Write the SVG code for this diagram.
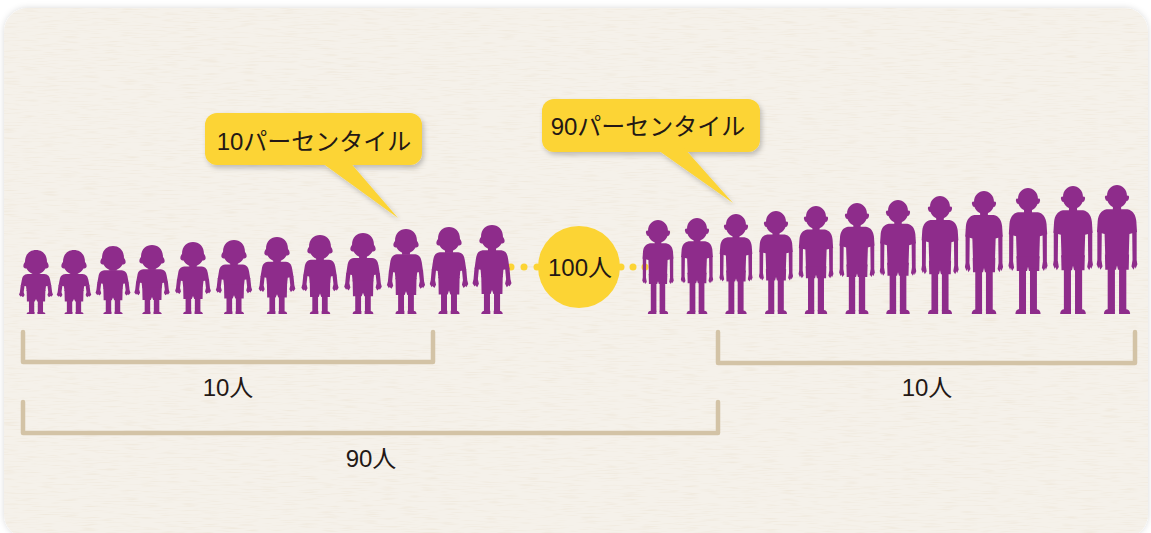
<svg xmlns="http://www.w3.org/2000/svg" xmlns:xlink="http://www.w3.org/1999/xlink" width="1151" height="533" viewBox="0 0 1151 533">
  <style>
    .fig { fill: #8E2C8B; }
    .bubble { fill: #FCD434; }
    .brace { fill: none; stroke: #D3C3A6; stroke-width: 4.5; stroke-linecap: round; stroke-linejoin: round; }
    .lbl { font-family: "Liberation Sans", "Noto Sans CJK JP", sans-serif; font-size: 24px; fill: #231815; text-anchor: middle; }
  </style>
  <defs>
    <filter id="panelShadow" x="-5%" y="-5%" width="110%" height="110%">
      <feDropShadow dx="0" dy="0" stdDeviation="3" flood-color="#000" flood-opacity="0.15"/>
    </filter>
    <filter id="linen" x="0" y="0" width="100%" height="100%">
      <feTurbulence type="fractalNoise" baseFrequency="0.05 0.75" numOctaves="2" seed="7" result="n"/>
      <feColorMatrix in="n" type="matrix" values="0 0 0 0 0.86  0 0 0 0 0.80  0 0 0 0 0.70  0 0 0 2.0 -1.0" result="c"/>
      <feComposite in="c" in2="SourceGraphic" operator="in"/>
    </filter>
    <filter id="bubbleShadow" x="-10%" y="-10%" width="125%" height="130%">
      <feDropShadow dx="2" dy="3" stdDeviation="2.5" flood-color="#000" flood-opacity="0.22"/>
    </filter>

    <!-- child: head drawn at fixed size, body scaled per figure (body spans y -100..0) -->
    <path id="kidHead" d="M -11,12 C -11,4 -6,0 0,0 C 6,0 11,4 11,12 C 12,13 13,15 12.5,17 C 12,18.5 10.5,18.5 9.5,18.5 C 7.5,22 4,24.5 0,24.5 C -4,24.5 -7.5,22 -9.5,18.5 C -10.5,18.5 -12,18.5 -12.5,17 C -13,15 -12,13 -11,12 Z"/>
    <g id="kidBody">
      <rect x="-6" y="-104" width="12" height="10"/>
      <path d="M -14,-95 C -21,-94 -23,-89 -24,-82 L -26,-68 L -17,-66 L -16,-55 L 16,-55 L 17,-66 L 26,-68 L 24,-82 C 23,-89 21,-94 14,-95 Z"/>
      <path d="M -26,-69 L -19.5,-68 L -21,-52 L -19.5,-45 L -22,-40 L -25,-43 L -26,-41 L -29,-46 L -27.5,-52 Z"/>
      <path d="M 26,-69 L 19.5,-68 L 21,-52 L 19.5,-45 L 22,-40 L 25,-43 L 26,-41 L 29,-46 L 27.5,-52 Z"/>
      <path d="M -16,-57 L 16,-57 L 15.5,-30 L 2,-30 L 0,-36 L -2,-30 L -15.5,-30 Z"/>
      <rect x="-12" y="-32" width="9" height="29"/>
      <rect x="3" y="-32" width="9" height="29"/>
      <path d="M -2.5,0 L -16,0 C -16,-3 -14,-5 -11,-5 L -2.5,-5 Z"/>
      <path d="M 2.5,0 L 16,0 C 16,-3 14,-5 11,-5 L 2.5,-5 Z"/>
    </g>

    <!-- adult: same scheme -->
    <path id="manHead" d="M -10,11 C -10,4 -5,0 0,0 C 5,0 10,4 10,11 C 11,10 12.5,11 12,13 C 11.5,15 11,16 9.5,16 C 8,20 4.5,23 0,23 C -4.5,23 -8,20 -9.5,16 C -11,16 -11.5,15 -12,13 C -12.5,11 -11,10 -10,11 Z"/>
    <g id="manBody">
      <rect x="-6" y="-104" width="12" height="9"/>
      <path d="M -15,-97 C -23,-96 -27,-92 -28,-86 L -29,-76 L -18,-74 L -17,-53 L 17,-53 L 18,-74 L 29,-76 L 28,-86 C 27,-92 23,-96 15,-97 Z"/>
      <path d="M -28.5,-77 L -22,-77 L -22.5,-50 L -21,-44 L -24,-41 L -26,-44 L -27,-42 L -29.5,-46 L -28.5,-50 Z"/>
      <path d="M 28.5,-77 L 22,-77 L 22.5,-50 L 21,-44 L 24,-41 L 26,-44 L 27,-42 L 29.5,-46 L 28.5,-50 Z"/>
      <path d="M -17.5,-55 L 17.5,-55 L 17,-41 L 1.5,-41 L 0,-45 L -1.5,-41 L -17,-41 Z"/>
      <rect x="-13.5" y="-43" width="10.5" height="40"/>
      <rect x="3" y="-43" width="10.5" height="40"/>
      <path d="M -3,0 L -19,0 C -19,-3 -16.5,-4.5 -13,-4.5 L -3,-4.5 Z"/>
      <path d="M 3,0 L 19,0 C 19,-3 16.5,-4.5 13,-4.5 L 3,-4.5 Z"/>
    </g>
  </defs>

  <!-- backdrop and linen panel -->
  <rect width="1151" height="533" fill="#FFFFFF"/>
  <rect x="4" y="8" width="1144" height="530" rx="24" fill="#F5F1EA" filter="url(#panelShadow)"/>
  <rect x="4" y="8" width="1144" height="530" rx="24" fill="#F5F1EA" filter="url(#linen)"/>

  <!-- bracket connectors -->
  <g id="connectors">
    <path class="brace" d="M 23,332 V 362 H 433 V 332"/>
    <path class="brace" d="M 23,402 V 433 H 718 V 402"/>
    <path class="brace" d="M 718,332 V 363 H 1135 V 332"/>
    <g fill="#FCD434">
      <circle cx="511" cy="267" r="3.5"/>
      <circle cx="524" cy="267" r="3.5"/>
      <circle cx="537" cy="267" r="3.5"/>
      <circle cx="621" cy="267" r="3.5"/>
      <circle cx="633" cy="267" r="3.5"/>
      <circle cx="645" cy="267" r="3.5"/>
    </g>
  </g>

  <!-- children -->
  <g class="fig">
    <g id="child01" transform="translate(36,0)"><use xlink:href="#kidBody" transform="translate(0,314) scale(0.586,0.42)"/><use xlink:href="#kidHead" transform="translate(0,250)"/></g>
    <g id="child02" transform="translate(74,0)"><use xlink:href="#kidBody" transform="translate(0,314) scale(0.595,0.42)"/><use xlink:href="#kidHead" transform="translate(0,250)"/></g>
    <g id="child03" transform="translate(113,0)"><use xlink:href="#kidBody" transform="translate(0,314) scale(0.603,0.46)"/><use xlink:href="#kidHead" transform="translate(0,246)"/></g>
    <g id="child04" transform="translate(152,0)"><use xlink:href="#kidBody" transform="translate(0,314) scale(0.610,0.47)"/><use xlink:href="#kidHead" transform="translate(0,245)"/></g>
    <g id="child05" transform="translate(193,0)"><use xlink:href="#kidBody" transform="translate(0,314) scale(0.617,0.50)"/><use xlink:href="#kidHead" transform="translate(0,242)"/></g>
    <g id="child06" transform="translate(234,0)"><use xlink:href="#kidBody" transform="translate(0,314) scale(0.626,0.52)"/><use xlink:href="#kidHead" transform="translate(0,240)"/></g>
    <g id="child07" transform="translate(277,0)"><use xlink:href="#kidBody" transform="translate(0,314) scale(0.633,0.55)"/><use xlink:href="#kidHead" transform="translate(0,237)"/></g>
    <g id="child08" transform="translate(320,0)"><use xlink:href="#kidBody" transform="translate(0,314) scale(0.641,0.57)"/><use xlink:href="#kidHead" transform="translate(0,235)"/></g>
    <g id="child09" transform="translate(363,0)"><use xlink:href="#kidBody" transform="translate(0,314) scale(0.648,0.59)"/><use xlink:href="#kidHead" transform="translate(0,233)"/></g>
    <g id="child10" transform="translate(406,0)"><use xlink:href="#kidBody" transform="translate(0,314) scale(0.657,0.63)"/><use xlink:href="#kidHead" transform="translate(0,229)"/></g>
    <g id="child11" transform="translate(449,0)"><use xlink:href="#kidBody" transform="translate(0,314) scale(0.664,0.65)"/><use xlink:href="#kidHead" transform="translate(0,227)"/></g>
    <g id="child12" transform="translate(492,0)"><use xlink:href="#kidBody" transform="translate(0,314) scale(0.672,0.67)"/><use xlink:href="#kidHead" transform="translate(0,225)"/></g>
  </g>

  <!-- adults -->
  <g class="fig">
    <g id="adult01" transform="translate(658,0)"><use xlink:href="#manBody" transform="translate(0,314) scale(0.534,0.73)"/><use xlink:href="#manHead" transform="translate(0,220)"/></g>
    <g id="adult02" transform="translate(697,0)"><use xlink:href="#manBody" transform="translate(0,314) scale(0.548,0.75)"/><use xlink:href="#manHead" transform="translate(0,218)"/></g>
    <g id="adult03" transform="translate(736,0)"><use xlink:href="#manBody" transform="translate(0,314) scale(0.562,0.79)"/><use xlink:href="#manHead" transform="translate(0,214)"/></g>
    <g id="adult04" transform="translate(776,0)"><use xlink:href="#manBody" transform="translate(0,314) scale(0.578,0.82)"/><use xlink:href="#manHead" transform="translate(0,211)"/></g>
    <g id="adult05" transform="translate(816,0)"><use xlink:href="#manBody" transform="translate(0,314) scale(0.591,0.87)"/><use xlink:href="#manHead" transform="translate(0,206)"/></g>
    <g id="adult06" transform="translate(857,0)"><use xlink:href="#manBody" transform="translate(0,314) scale(0.605,0.90)"/><use xlink:href="#manHead" transform="translate(0,203)"/></g>
    <g id="adult07" transform="translate(898,0)"><use xlink:href="#manBody" transform="translate(0,314) scale(0.619,0.93)"/><use xlink:href="#manHead" transform="translate(0,200)"/></g>
    <g id="adult08" transform="translate(940,0)"><use xlink:href="#manBody" transform="translate(0,314) scale(0.633,0.97)"/><use xlink:href="#manHead" transform="translate(0,196)"/></g>
    <g id="adult09" transform="translate(984,0)"><use xlink:href="#manBody" transform="translate(0,314) scale(0.647,1.02)"/><use xlink:href="#manHead" transform="translate(0,191)"/></g>
    <g id="adult10" transform="translate(1028,0)"><use xlink:href="#manBody" transform="translate(0,314) scale(0.662,1.05)"/><use xlink:href="#manHead" transform="translate(0,188)"/></g>
    <g id="adult11" transform="translate(1073,0)"><use xlink:href="#manBody" transform="translate(0,314) scale(0.676,1.07)"/><use xlink:href="#manHead" transform="translate(0,186)"/></g>
    <g id="adult12" transform="translate(1117,0)"><use xlink:href="#manBody" transform="translate(0,314) scale(0.690,1.08)"/><use xlink:href="#manHead" transform="translate(0,185)"/></g>
  </g>

  <!-- total count badge -->
  <g id="total">
    <circle class="bubble" cx="579" cy="267" r="41"/>
    <text class="lbl" x="580" y="276">100人</text>
  </g>

  <!-- callouts -->
  <g id="callout10">
    <g filter="url(#bubbleShadow)">
      <rect class="bubble" x="205" y="113" width="217" height="52" rx="12"/>
      <path class="bubble" d="M 318,160 L 348,160 L 398,218 Z"/>
    </g>
    <text class="lbl" x="314" y="150">10パーセンタイル</text>
  </g>
  <g id="callout90">
    <g filter="url(#bubbleShadow)">
      <rect class="bubble" x="542" y="99" width="218" height="53" rx="12"/>
      <path class="bubble" d="M 655,148 L 684,148 L 733,203 Z"/>
    </g>
    <text class="lbl" x="648" y="135">90パーセンタイル</text>
  </g>

  <!-- bracket labels -->
  <g id="labels">
    <text class="lbl" x="228" y="396">10人</text>
    <text class="lbl" x="371" y="467">90人</text>
    <text class="lbl" x="927" y="396">10人</text>
  </g>
</svg>
